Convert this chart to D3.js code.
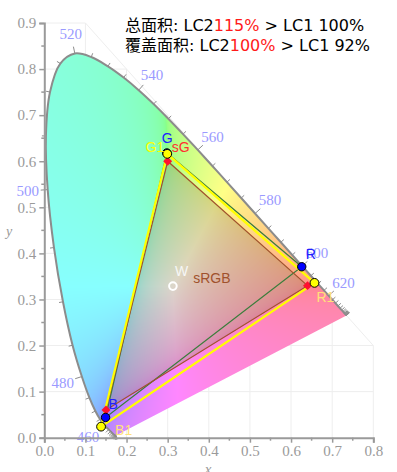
<!DOCTYPE html>
<html>
<head>
<meta charset="utf-8">
<script src="https://cdn.jsdelivr.net/npm/d3@7"></script>
<style>
  body { margin: 0; background: #fff; }
  svg { display: block; }
</style>
</head>
<body>
<svg id="chart" width="397" height="472"></svg>
<script>
// CIE 1931 spectral locus, 5 nm steps
const wavelengths = [380,385,390,395,400,405,410,415,420,425,430,435,440,445,450,455,460,465,470,475,480,485,490,495,500,505,510,515,520,525,530,535,540,545,550,555,560,565,570,575,580,585,590,595,600,605,610,615,620,625,630,635,640,645,650,655,660,665,670,675,680,685,690,695,700];
const locusX = [0.1741,0.1740,0.1738,0.1736,0.1733,0.1730,0.1726,0.1721,0.1714,0.1703,0.1689,0.1669,0.1644,0.1611,0.1566,0.1510,0.1440,0.1355,0.1241,0.1096,0.0913,0.0687,0.0454,0.0235,0.0082,0.0039,0.0139,0.0389,0.0743,0.1142,0.1547,0.1929,0.2296,0.2658,0.3016,0.3373,0.3731,0.4087,0.4441,0.4788,0.5125,0.5448,0.5752,0.6029,0.6270,0.6482,0.6658,0.6801,0.6915,0.7006,0.7079,0.7140,0.7190,0.7230,0.7260,0.7283,0.7300,0.7311,0.7320,0.7327,0.7334,0.7340,0.7344,0.7346,0.7347];
const locusY = [0.0050,0.0050,0.0049,0.0049,0.0048,0.0048,0.0048,0.0048,0.0051,0.0058,0.0069,0.0086,0.0109,0.0138,0.0177,0.0227,0.0297,0.0399,0.0578,0.0868,0.1327,0.2007,0.2950,0.4127,0.5384,0.6548,0.7502,0.8120,0.8338,0.8262,0.8059,0.7816,0.7543,0.7243,0.6923,0.6589,0.6245,0.5896,0.5547,0.5202,0.4866,0.4544,0.4242,0.3965,0.3725,0.3514,0.3340,0.3197,0.3083,0.2993,0.2920,0.2859,0.2809,0.2770,0.2740,0.2717,0.2700,0.2689,0.2680,0.2673,0.2666,0.2660,0.2656,0.2654,0.2653];
const labelWavelengths = [460,480,500,520,540,560,580,600,620];

// gamut primaries (R, G, B)
const srgbX = [0.640, 0.300, 0.150];
const srgbY = [0.330, 0.600, 0.060];
const lc1X = [0.626, 0.298, 0.149];
const lc1Y = [0.371, 0.618, 0.044];
const lc2X = [0.657, 0.299, 0.138];
const lc2Y = [0.336, 0.616, 0.024];
const whitePoint = [0.3127, 0.3290];

const xTicks = [0, 0.1, 0.2, 0.3, 0.4, 0.5, 0.6, 0.7, 0.8];
const yTicks = [0, 0.1, 0.2, 0.3, 0.4, 0.5, 0.6, 0.7, 0.8, 0.9];

const titleLine1 = ["总面积: LC2", "115%", " > LC1 100%"];
const titleLine2 = ["覆盖面积: LC2", "100%", " > LC1 92%"];

const width = 397, height = 472;
const x = d3.scaleLinear().domain([0, 0.8]).range([44.3, 373.3]);
const y = d3.scaleLinear().domain([0, 0.9]).range([437.7, 23]);

const svg = d3.select('#chart');

// faint grid, only inside x + y <= 1
const grid = svg.append('g').attr('stroke', '#eeeeee').attr('stroke-width', 1);
xTicks.slice(1).forEach(v => {
  grid.append('line')
    .attr('x1', x(v)).attr('x2', x(v))
    .attr('y1', y(0)).attr('y2', y(Math.min(0.9, 1 - v)));
});
yTicks.slice(1).forEach(v => {
  grid.append('line')
    .attr('y1', y(v)).attr('y2', y(v))
    .attr('x1', x(0)).attr('x2', x(Math.min(0.8, 1 - v)));
});
grid.append('line')
  .attr('x1', x(0.1)).attr('y1', y(0.9))
  .attr('x2', x(0.8)).attr('y2', y(0.2));

// chromaticity colours painted on a canvas
function gamma(c) {
  return c <= 0.0031308 ? 12.92 * c : 1.055 * Math.pow(c, 1 / 2.4) - 0.055;
}
const canvas = document.createElement('canvas');
canvas.width = width;
canvas.height = height;
const ctx = canvas.getContext('2d');
const img = ctx.createImageData(width, height);
for (let py = 15; py < 445; py++) {
  for (let px = 40; px < 380; px++) {
    const cx = x.invert(px + 0.5), cy = y.invert(py + 0.5);
    if (cy <= 0.001) continue;
    const X = cx / cy, Z = (1 - cx - cy) / cy;
    let r = 3.2406 * X - 1.5372 - 0.4986 * Z;
    let g = -0.9689 * X + 1.8758 + 0.0415 * Z;
    let b = 0.0557 * X - 0.2040 + 1.0570 * Z;
    const mn = Math.min(r, g, b);
    if (mn < 0) { r -= mn; g -= mn; b -= mn; }
    const mx = Math.max(r, g, b) || 1;
    const k = (py * width + px) * 4;
    img.data[k] = (gamma(r / mx) * 0.47 + 0.53) * 255;
    img.data[k + 1] = (gamma(g / mx) * 0.47 + 0.53) * 255;
    img.data[k + 2] = (gamma(b / mx) * 0.47 + 0.53) * 255;
    img.data[k + 3] = 255;
  }
}
ctx.putImageData(img, 0, 0);

const locusPts = wavelengths.map((w, i) => [x(locusX[i]), y(locusY[i])]);
const line = d3.line();
const smooth = d3.line().curve(d3.curveCatmullRom);

svg.append('clipPath').attr('id', 'locusClip')
  .append('path').attr('d', smooth(locusPts) + 'Z');

svg.append('image')
  .attr('x', 0).attr('y', 0)
  .attr('width', width).attr('height', height)
  .attr('href', canvas.toDataURL())
  .attr('clip-path', 'url(#locusClip)');

// sRGB interior shading
const tri = (xs, ys) => line(xs.map((v, i) => [x(v), y(ys[i])])) + 'Z';
svg.append('path')
  .attr('d', tri(srgbX, srgbY))
  .attr('fill', 'rgb(140,120,80)')
  .attr('fill-opacity', 0.3);

// locus outline and wavelength ticks
svg.append('path')
  .attr('d', smooth(locusPts))
  .attr('fill', 'none')
  .attr('stroke', '#8c8c8c')
  .attr('stroke-width', 2);

const tickG = svg.append('g').attr('stroke', '#8c8c8c').attr('stroke-width', 1);
const wlLabels = svg.append('g')
  .attr('font-family', '"Liberation Serif", serif')
  .attr('font-size', 15)
  .attr('fill', '#9a9aff')
  .attr('text-anchor', 'middle');
wavelengths.forEach((w, i) => {
  const a = locusPts[Math.max(0, i - 1)], c = locusPts[Math.min(locusPts.length - 1, i + 1)];
  let tx = c[0] - a[0], ty = c[1] - a[1];
  const len = Math.hypot(tx, ty) || 1;
  tx /= len; ty /= len;
  const nx = ty, ny = -tx;
  const p = locusPts[i];
  const major = labelWavelengths.includes(w);
  const tl = major ? 7 : 4;
  tickG.append('line')
    .attr('x1', p[0]).attr('y1', p[1])
    .attr('x2', p[0] + nx * tl).attr('y2', p[1] + ny * tl);
  if (major) {
    wlLabels.append('text')
      .attr('x', p[0] + nx * 20)
      .attr('y', p[1] + ny * 20)
      .attr('dy', '0.35em')
      .text(w);
  }
});

// gamut triangles
svg.append('path').attr('d', tri(lc1X, lc1Y))
  .attr('fill', 'none').attr('stroke', '#3b7d3b').attr('stroke-width', 1.2);
svg.append('path').attr('d', tri(srgbX, srgbY))
  .attr('fill', 'none').attr('stroke', '#a0522d').attr('stroke-width', 1.2);
svg.append('path').attr('d', tri(lc2X, lc2Y))
  .attr('fill', 'none').attr('stroke', '#ffff00').attr('stroke-width', 2.2);

// markers
svg.append('g').selectAll('path')
  .data(srgbX.map((v, i) => [v, srgbY[i]]))
  .join('path')
  .attr('d', d3.symbol(d3.symbolSquare, 40))
  .attr('transform', d => `translate(${x(d[0])},${y(d[1])}) rotate(45)`)
  .attr('fill', '#ff1030');
svg.append('g').selectAll('circle')
  .data(lc1X.map((v, i) => [v, lc1Y[i]]))
  .join('circle')
  .attr('cx', d => x(d[0])).attr('cy', d => y(d[1])).attr('r', 4.2)
  .attr('fill', '#0000ff').attr('stroke', '#000').attr('stroke-width', 1);
svg.append('g').selectAll('circle')
  .data(lc2X.map((v, i) => [v, lc2Y[i]]))
  .join('circle')
  .attr('cx', d => x(d[0])).attr('cy', d => y(d[1])).attr('r', 4.4)
  .attr('fill', '#ffff00').attr('stroke', '#000').attr('stroke-width', 1);

svg.append('circle')
  .attr('cx', x(whitePoint[0])).attr('cy', y(whitePoint[1])).attr('r', 3.8)
  .attr('fill', 'none').attr('stroke', '#fff').attr('stroke-width', 2);

// point labels
const lab = svg.append('g')
  .attr('font-family', '"Liberation Sans", Arial, sans-serif')
  .attr('font-size', 14);
const addLabel = (t, px, py, color, anchor) =>
  lab.append('text').attr('x', px).attr('y', py).attr('fill', color)
    .attr('text-anchor', anchor || 'start').text(t);
addLabel('G', x(lc1X[1]) - 5, y(lc1Y[1]) - 10, '#2020ff');
addLabel('sG', x(srgbX[1]) + 4, y(lc1Y[1]) - 1, '#ff3030');
addLabel('G1', x(lc2X[1]) - 3, y(lc2Y[1]) - 2, '#ffff00', 'end');
addLabel('R', x(lc1X[0]) + 4, y(lc1Y[0]) - 8, '#2020ff');
addLabel('R1', x(lc2X[0]) + 2, y(lc2Y[0]) + 19, '#ffe27a');
addLabel('B', x(lc1X[2]) + 3, y(lc1Y[2]) - 8, '#2020ff');
addLabel('B1', x(lc2X[2]) + 14, y(lc2Y[2]) + 8, '#ffe27a');
addLabel('W', x(whitePoint[0]) + 2, y(whitePoint[1]) - 10, '#f6f6f6');
addLabel('sRGB', x(0.362), y(0.335), '#a0522d');

// axes
const axisFont = '"Liberation Serif", serif';
const yAxis = svg.append('g').attr('transform', `translate(${x(0)},0)`)
  .call(d3.axisLeft(y).tickValues(yTicks).tickFormat(d3.format('.1f')).tickSize(5).tickPadding(3));
const xAxis = svg.append('g').attr('transform', `translate(0,${y(0)})`)
  .call(d3.axisBottom(x).tickValues(xTicks).tickFormat(d3.format('.1f')).tickSize(5).tickPadding(3));
[xAxis, yAxis].forEach(ax => {
  ax.select('.domain').attr('stroke', '#9a9a9a').attr('stroke-width', 2);
  ax.selectAll('.tick line').attr('stroke', '#9a9a9a').attr('stroke-width', 1.5);
  ax.selectAll('.tick text').attr('fill', '#9a9a9a')
    .attr('font-family', axisFont).attr('font-size', 15);
});
// minor ticks
yTicks.slice(0, -1).forEach(v => {
  svg.append('line').attr('x1', x(0) - 3).attr('x2', x(0))
    .attr('y1', y(v + 0.05)).attr('y2', y(v + 0.05))
    .attr('stroke', '#9a9a9a').attr('stroke-width', 1.5);
});
xTicks.slice(0, -1).forEach(v => {
  svg.append('line').attr('y1', y(0)).attr('y2', y(0) + 3)
    .attr('x1', x(v + 0.05)).attr('x2', x(v + 0.05))
    .attr('stroke', '#9a9a9a').attr('stroke-width', 1.5);
});

svg.append('text').attr('x', 208).attr('y', 474)
  .attr('font-family', axisFont).attr('font-style', 'italic')
  .attr('font-size', 15).attr('fill', '#9a9a9a').attr('text-anchor', 'middle').text('x');
svg.append('text').attr('x', 9).attr('y', 236)
  .attr('font-family', axisFont).attr('font-style', 'italic')
  .attr('font-size', 14).attr('fill', '#9a9a9a').attr('text-anchor', 'middle').text('y');

// title
const title = svg.append('g')
  .attr('font-family', '"DejaVu Sans", "Noto Sans CJK SC", sans-serif')
  .attr('font-size', 16)
  .style('white-space', 'pre');
[[titleLine1, 31], [titleLine2, 51]].forEach(([parts, ty]) => {
  const t = title.append('text').attr('x', 125).attr('y', ty);
  parts.forEach((s, i) => {
    t.append('tspan').attr('fill', i === 1 ? '#ff1a1a' : '#000').text(s);
  });
});
</script>
</body>
</html>
